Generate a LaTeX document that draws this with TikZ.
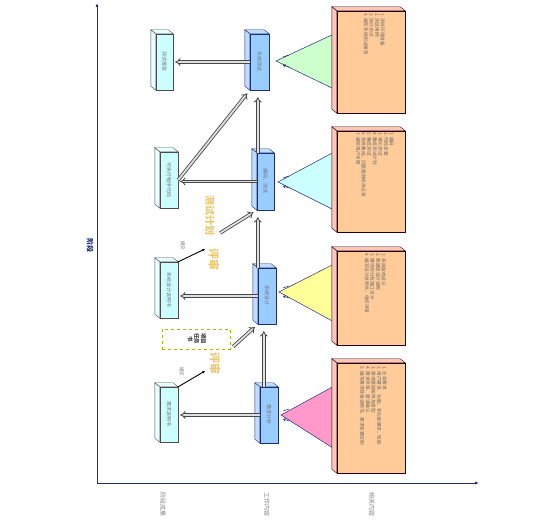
\documentclass[tikz,border=0pt]{standalone}
\usepackage{fontspec}
\setmainfont{Noto Sans CJK SC}
\usepackage{graphicx}
\usetikzlibrary{positioning,arrows.meta,calc}
\definecolor{navy}{RGB}{31,45,120}
\definecolor{resfill}{RGB}{204,255,255}
\definecolor{resside}{RGB}{232,255,255}
\definecolor{workfill}{RGB}{153,204,255}
\definecolor{workside}{RGB}{190,222,255}
\definecolor{notefill}{RGB}{255,204,153}
\definecolor{noteside}{RGB}{250,200,185}
\definecolor{gold}{RGB}{236,200,110}
\definecolor{trigreen}{RGB}{204,255,204}
\definecolor{tricyan}{RGB}{204,255,255}
\definecolor{triyellow}{RGB}{255,255,153}
\definecolor{tripink}{RGB}{255,153,204}
\tikzset{
  res/.style  = {rectangle, draw=black!70, fill=resfill, inner sep=0pt,
                 minimum width=18pt, minimum height=56pt,
                 font=\fontsize{5}{6}\selectfont, text=black!55},
  work/.style = {res, draw=navy, fill=workfill},
  note/.style = {rectangle, draw=black!80!purple, fill=notefill,
                 inner sep=0pt, minimum width=68pt},
  list/.style = {anchor=north east, inner sep=0pt,
                 font=\fontsize{4.6}{5.6}\selectfont, text=black!60},
  dbl/.style  = {draw=black!72, double=black!12, double distance=1.8pt,
                 line width=.85pt, -{Implies}, shorten >=2pt},
  hand/.style = {-{Stealth[length=3pt,width=2.6pt]}, line width=.9pt},
  goldtxt/.style = {inner sep=0pt, text=gold, font=\fontsize{11}{11}\selectfont\bfseries},
  call/.style = {draw=navy, line width=.5pt},
  axis/.style = {draw=navy, line width=.8pt, -{Latex[length=4pt,width=3pt]}},
  small/.style = {inner sep=0pt, font=\fontsize{4.6}{5}\selectfont, text=black!55},
  axlab/.style = {inner sep=0pt, font=\fontsize{6}{6}\selectfont, text=black!50}
}
\newcommand\rot[1]{\rotatebox{-90}{#1}}
\newcommand\depth[2]{%
  \filldraw[#2] (#1.north west) -- ++(-5,-4) -- ($(#1.north east)+(-5,-4)$) -- (#1.north east) -- cycle;
  \filldraw[#2] (#1.north west) -- ++(-5,-4) -- ($(#1.south west)+(-5,-4)$) -- (#1.south west) -- cycle;}

\begin{document}
\begin{tikzpicture}[x=1pt,y=-1pt]
  \useasboundingbox (0,0) rectangle (549,526);
  % axes
  \coordinate (origin) at (97,483);
  \coordinate (ytip) at (97,3);
  \coordinate (xtip) at (479,483);
  \draw[axis] (origin) -- (ytip);
  \draw[axis] (origin) -- (xtip);
  \node[inner sep=0pt, text=navy, font=\fontsize{7}{7}\selectfont\bfseries] (stagelab) at (90,246) {\rot{阶段}};
  \node[axlab] (labres) at (163,505) {\rot{阶段成果}};
  \node[axlab] (labwork) at (267,505) {\rot{工作内容}};
  \node[axlab] (labnote) at (372,504) {\rot{相关内容}};

  % stage results
  \node[res, minimum width=17pt] (res1) at (164.5,62) {\rot{测试报告}};
  \node[res] (res2) at (169,180) {\rot{可执行程序代码}};
  \node[res] (res3) at (169,290) {\rot{系统设计说明书}};
  \node[res, minimum height=55pt] (res4) at (169,414.5) {\rot{需求说明书}};
  \foreach \n in {res1,res2,res3,res4} \depth{\n}{fill=resside,draw=black!70};

  % work content
  \node[work, minimum width=19pt] (work1) at (259.5,62) {\rot{系统测试}};
  \node[work, minimum width=17pt, minimum height=57pt] (work2) at (265.5,181.5) {\rot{编码、测试}};
  \node[work] (work3) at (267,296) {\rot{系统设计}};
  \node[work] (work4) at (269,415) {\rot{需求分析}};
  \foreach \n in {work1,work2,work3,work4} \depth{\n}{fill=workside,draw=navy};

  % callouts
  \filldraw[call, fill=trigreen] (276,61) -- (336,33) -- (336,90) -- cycle;
  \filldraw[call, fill=tricyan] (278,182) -- (336,151) -- (336,211) -- cycle;
  \filldraw[call, fill=triyellow] (279,292) -- (336,263) -- (336,323) -- cycle;
  \filldraw[call, fill=tripink] (281,415) -- (336,385) -- (336,450) -- cycle;
  \foreach \y in {61,182,292,415}
    \draw[navy, line width=.5pt, -{Straight Barb[length=2pt,width=2.5pt]}]
      (289,\y-6) -- (283,\y-4) (289,\y+6) -- (283,\y+4);

  % related content
  \node[note, minimum height=102pt] (note1) at (371,62) {};
  \node[note, minimum height=101pt] (note2) at (371,181.5) {};
  \node[note, minimum height=94pt] (note3) at (371,298) {};
  \node[note, minimum height=110pt] (note4) at (371,418) {};
  \foreach \n in {note1,note2,note3,note4} \depth{\n}{fill=noteside,draw=black!80!purple};
  \node[list] (list1) at (385,13) {\rot{\begin{tabular}{@{}l@{}}1. 测试环境准备\\2. 测试用例\\3. 执行测试\\4. 编写系统测试报告\end{tabular}}};
  \node[list] (list2) at (394,132) {\rot{\begin{tabular}{@{}l@{}}1. 编码\\2. 代码走查\\3. 单元测试\\4. 集成测试计划\\5. 集成测试\\6. 系统集成，问题跟踪修改记录\\7. 编写用户手册\end{tabular}}};
  \node[list] (list3) at (386,253) {\rot{\begin{tabular}{@{}l@{}}1. 系统架构设计\\2. 数据库设计说明\\3. 模块划分及接口设计\\4. 编写设计说明书，组织评审\end{tabular}}};
  \node[list] (list4) at (387,366) {\rot{\begin{tabular}{@{}l@{}}1. 业务需求\\2. 用户需求、功能、非功能需求、性能\\3. 需求跟踪矩阵及原型\\4. 需求评审、需求确认\\5. 编写需求规格说明书、需求变更控制\end{tabular}}};

  % inputs
  \node[goldtxt, font=\fontsize{10}{10}\selectfont\bfseries] (plan) at (210,216) {\rot{测试计划}};
  \node[goldtxt] (review1) at (214,260) {\rot{评审}};
  \node[goldtxt] (review2) at (215,364) {\rot{评审}};
  \node[draw=olive!60!yellow, dashed, line width=.6pt, minimum width=68pt, minimum height=20pt,
        inner sep=0pt, font=\fontsize{5.5}{6.5}\selectfont\bfseries, text=black!75] (task) at (196,339)
        {\rot{\begin{tabular}{@{}c@{}}项目\\任务\\书\end{tabular}}};
  \node[small] (sub1) at (183,246) {\rot{提交}};
  \node[small] (sub2) at (182,372) {\rot{提交}};
  \coordinate (hand1) at (205,249);
  \coordinate (hand2) at (205,371);

  % connectors
  \draw[dbl] (work1.west) -- (work1.west -| res1.east);
  \draw[dbl] (work2.west) -- (work2.west -| res2.east);
  \draw[dbl] (work3.west) -- (work3.west -| res3.east);
  \draw[dbl] (work4.west) -- (work4.west -| res4.east);
  \coordinate (up2) at ([xshift=1pt]work2.north west);
  \coordinate (up3) at (work3.north west);
  \coordinate (up4) at ([xshift=4pt]work4.north west);
  \draw[dbl, shorten >=7pt] (up2) -- (up2 |- work1.south);
  \draw[dbl, shorten >=7pt] (up3) -- (up3 |- work2.south);
  \draw[dbl, shorten >=7pt] (up4) -- (up4 |- work3.south);
  \draw[dbl, shorten >=4pt] (res2.east) -- (work1.south west);
  \draw[dbl, shorten <=6pt, shorten >=4pt] (plan.south east) -- (work2.south west);
  \draw[dbl, shorten <=4pt, shorten >=4pt] (task.south east) -- (work3.south west);
  \draw[hand] (res3.north east) -- (hand1);
  \draw[hand] (res4.north east) -- (hand2);
\end{tikzpicture}
\end{document}
